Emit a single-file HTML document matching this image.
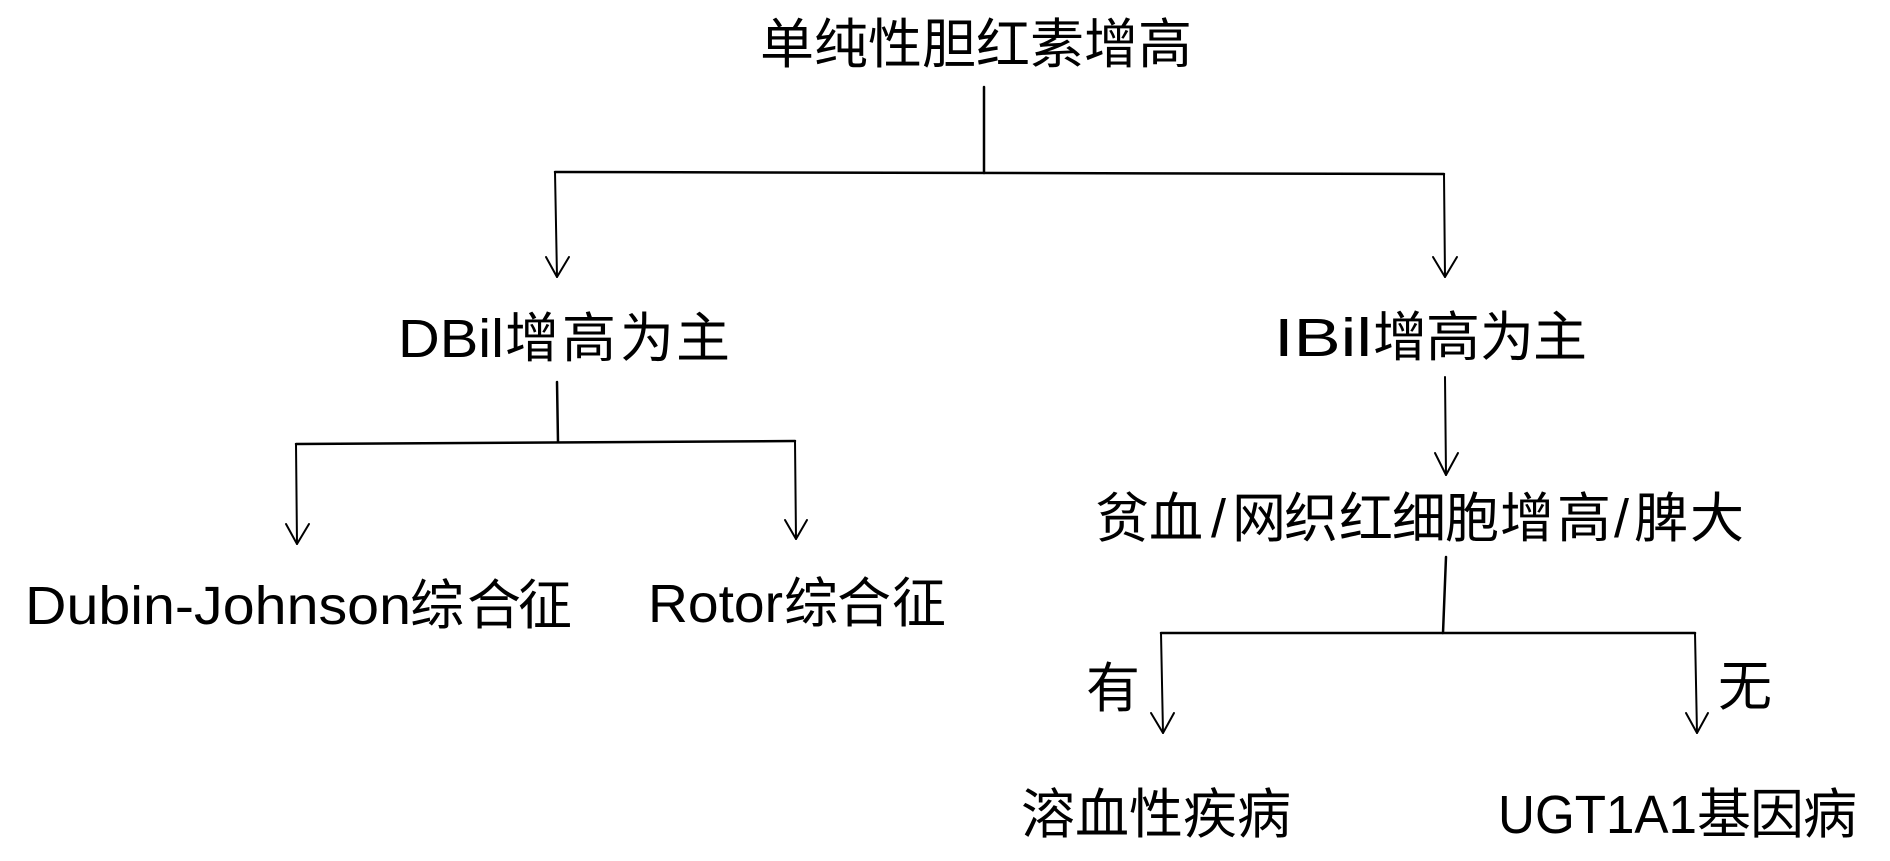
<!DOCTYPE html>
<html>
<head>
<meta charset="utf-8">
<style>
  html, body { margin: 0; padding: 0; background: #ffffff; }
  body { width: 1890px; height: 861px; overflow: hidden; }
  svg { display: block; }
  .cjk { font-family: "Noto Sans CJK SC", "WenQuanYi Zen Hei", sans-serif; font-size: 54px; fill: #000; }
  .lat { font-family: "Liberation Sans", "Noto Sans CJK SC", sans-serif; font-size: 54px; fill: #000; }
  .ln { stroke: #000; stroke-width: 2.5; fill: none; stroke-linecap: round; }
  .ar { stroke: #000; stroke-width: 2; fill: none; stroke-linecap: round; stroke-linejoin: round; }
</style>
</head>
<body>
<svg width="1890" height="861" viewBox="0 0 1890 861" xmlns="http://www.w3.org/2000/svg">
  <rect x="0" y="0" width="1890" height="861" fill="#ffffff"/>

  <!-- Title -->
  <text class="cjk" x="760" y="63">单纯性胆红素增高</text>

  <!-- Title stem and top bar -->
  <line class="ln" x1="984" y1="87" x2="984" y2="173"/>
  <line class="ln" x1="555" y1="172" x2="1444" y2="174"/>

  <!-- Left arrow to DBil -->
  <line class="ar" x1="555" y1="172" x2="557" y2="277"/>
  <polyline class="ar" points="546,257 557,277 569,257"/>

  <!-- Right arrow to IBil -->
  <line class="ar" x1="1444" y1="174" x2="1445" y2="277"/>
  <polyline class="ar" points="1433,257 1445,277 1457,257"/>

  <!-- DBil增高为主 -->
  <text class="lat" x="398" y="357" textLength="106" lengthAdjust="spacingAndGlyphs">DBil</text>
  <text class="cjk" x="505 562 620 676" y="357">增高为主</text>

  <!-- IBil增高为主 -->
  <text class="lat" x="1274" y="356" textLength="98" lengthAdjust="spacingAndGlyphs">IBil</text>
  <text class="cjk" x="1373 1426 1480 1533" y="356">增高为主</text>

  <!-- DBil stem and bar -->
  <line class="ln" x1="557" y1="382" x2="558" y2="442"/>
  <line class="ln" x1="296" y1="444" x2="795" y2="441"/>

  <!-- DBil -> Dubin-Johnson -->
  <line class="ar" x1="296" y1="444" x2="297" y2="544"/>
  <polyline class="ar" points="286,524 297,544 309,524"/>

  <!-- DBil -> Rotor -->
  <line class="ar" x1="795" y1="441" x2="796" y2="539"/>
  <polyline class="ar" points="785,520 796,539 807,520"/>

  <!-- Dubin-Johnson综合征 -->
  <text class="lat" x="25" y="624" textLength="386" lengthAdjust="spacingAndGlyphs">Dubin-Johnson</text>
  <text class="cjk" x="410 467 518" y="624">综合征</text>

  <!-- Rotor综合征 -->
  <text class="lat" x="648" y="622" textLength="135" lengthAdjust="spacingAndGlyphs">Rotor</text>
  <text class="cjk" x="784 837 892" y="622">综合征</text>

  <!-- IBil -> 贫血 arrow -->
  <line class="ar" x1="1445" y1="377" x2="1446" y2="475"/>
  <polyline class="ar" points="1435,453 1446,475 1458,453"/>

  <!-- 贫血/网织红细胞增高/脾大 -->
  <text class="cjk" y="537">
    <tspan x="1095">贫</tspan><tspan x="1149">血</tspan>
  </text>
  <text class="lat" x="1211" y="537">/</text>
  <text class="cjk" x="1232 1284 1339 1392 1445 1500 1557" y="537">网织红细胞增高</text>
  <text class="lat" x="1614" y="537">/</text>
  <text class="cjk" x="1634 1690" y="537">脾大</text>

  <!-- stem and bar -->
  <line class="ln" x1="1446" y1="557" x2="1443" y2="633"/>
  <line class="ln" x1="1161" y1="633" x2="1695" y2="633"/>

  <!-- 有 arrow -->
  <line class="ar" x1="1161" y1="633" x2="1163" y2="733"/>
  <polyline class="ar" points="1151,713 1163,733 1174,713"/>

  <!-- 无 arrow -->
  <line class="ar" x1="1695" y1="633" x2="1697" y2="733"/>
  <polyline class="ar" points="1686,713 1697,733 1708,713"/>

  <!-- 有 / 无 labels -->
  <text class="cjk" x="1086" y="707">有</text>
  <text class="cjk" x="1718" y="705">无</text>

  <!-- 溶血性疾病 -->
  <text class="cjk" x="1021" y="833">溶血性疾病</text>

  <!-- UGT1A1基因病 -->
  <text class="lat" x="1498" y="833" textLength="199" lengthAdjust="spacingAndGlyphs">UGT1A1</text>
  <text class="cjk" x="1697 1750 1803" y="833">基因病</text>
</svg>
</body>
</html>
